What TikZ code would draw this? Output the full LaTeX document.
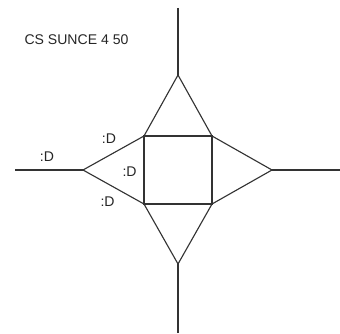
\documentclass[tikz,border=0pt]{standalone}
\usepackage{fontspec}
\setmainfont{Liberation Sans}
\tikzset{
  road/.style={line width=0.8pt, black!80},
  lbl/.style={font=\fontsize{10}{12}\selectfont, text=black!85, inner sep=0pt}
}
\begin{document}
\begin{tikzpicture}

% Manually size the picture
\useasboundingbox (0, 0) rectangle (8.5, 8.325);

% Title
\node[lbl] (title) at (1.9125, 7.325) {CS SUNCE 4 50};

% Road ends
\coordinate (topEnd) at (4.45, 8.125);
\coordinate (leftEnd) at (0.375, 4.075);
\coordinate (rightEnd) at (8.5, 4.075);
\coordinate (bottomEnd) at (4.45, 0);

% Apexes
\coordinate (topApex) at (4.45, 6.45);
\coordinate (leftApex) at (2.075, 4.075);
\coordinate (rightApex) at (6.8, 4.075);
\coordinate (bottomApex) at (4.45, 1.725);

% Square corners
\coordinate (nw) at (3.6, 4.925);
\coordinate (ne) at (5.3, 4.925);
\coordinate (se) at (5.3, 3.225);
\coordinate (sw) at (3.6, 3.225);

% Square
\draw[road] (nw) -- (ne) -- (se) -- (sw) -- cycle;

% Arms
\draw[road] (topEnd) -- (topApex);
\draw[road] (leftEnd) -- (leftApex);
\draw[road] (rightEnd) -- (rightApex);
\draw[road] (bottomEnd) -- (bottomApex);

% Triangles
\draw[road] (nw) -- (topApex) -- (ne);
\draw[road] (ne) -- (rightApex) -- (se);
\draw[road] (se) -- (bottomApex) -- (sw);
\draw[road] (sw) -- (leftApex) -- (nw);

% Labels
\node[lbl] (armLabel) at (1.175, 4.41) {:D};
\node[lbl] (upperLabel) at (2.725, 4.85) {:D};
\node[lbl] (innerLabel) at (3.24, 4.03) {:D};
\node[lbl] (lowerLabel) at (2.69, 3.28) {:D};

\end{tikzpicture}
\end{document}
